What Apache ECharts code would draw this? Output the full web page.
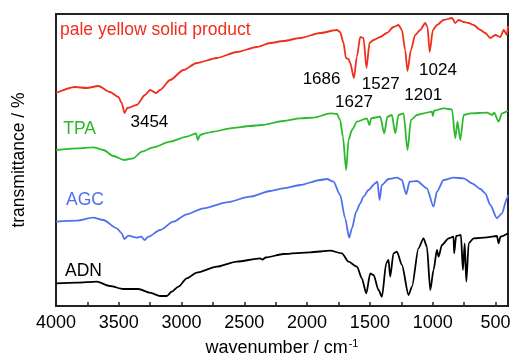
<!DOCTYPE html>
<html>
<head>
<meta charset="utf-8">
<script src="https://cdn.jsdelivr.net/npm/echarts@6/dist/echarts.min.js"></script>
<style>
  html, body { margin: 0; padding: 0; background: #fff; }
  #chart { width: 512px; height: 358px; }
</style>
</head>
<body>
<div id="chart"></div>
<script>
// FTIR spectra, offset vertically (arbitrary transmittance units)
const productWn = [4000, 3849, 3755, 3663, 3570, 3503, 3477, 3454, 3432, 3357, 3291, 3251, 3203, 3171, 3091, 2985, 2879, 2719, 2560, 2400, 2294, 2188, 2055, 1896, 1763, 1737, 1710, 1691, 1670, 1657, 1627, 1604, 1577, 1551, 1527, 1503, 1471, 1418, 1365, 1312, 1272, 1245, 1219, 1201, 1173, 1139, 1099, 1059, 1041, 1024, 998, 966, 913, 846, 820, 793, 753, 713, 674, 620, 581, 541, 501, 461, 434, 408, 400];
const productT = [213, 219, 218, 220, 214, 209, 203, 193, 198, 201, 211, 216, 213, 216, 226, 236, 243, 248, 254, 259, 263, 265, 268, 273, 276, 274, 263, 248, 247, 243, 228, 249, 269, 268, 238, 263, 266, 269, 273, 279, 281, 276, 256, 235, 256, 271, 276, 283, 279, 254, 276, 281, 286, 288, 283, 286, 284, 283, 281, 276, 273, 268, 271, 269, 276, 271, 280];

const tpaWn = [4000, 3835, 3703, 3623, 3543, 3458, 3384, 3317, 3225, 3091, 2959, 2884, 2871, 2852, 2812, 2746, 2613, 2454, 2361, 2188, 2055, 1949, 1816, 1763, 1737, 1715, 1689, 1670, 1643, 1603, 1524, 1503, 1490, 1418, 1386, 1360, 1325, 1298, 1272, 1232, 1200, 1173, 1125, 1072, 1006, 998, 990, 913, 846, 820, 802, 780, 753, 700, 567, 528, 510, 475, 448, 400];
const tpaT = [156, 157.7, 158.7, 156, 150, 146, 147.7, 154.3, 158.7, 164.3, 169.3, 172.7, 166, 171, 172.7, 174.3, 177.7, 180, 181, 185, 187.7, 188.3, 192.7, 192, 186, 169.3, 136, 166, 176, 184.3, 187.7, 181, 187.7, 189.3, 172.7, 189.3, 191, 172.7, 191, 192.7, 156, 186, 191, 192.7, 194.3, 190, 195.3, 197.7, 196.7, 167.7, 184.3, 166, 191, 192.7, 193.3, 191, 193.3, 184.3, 192.7, 195.3];

const agcWn = [4000, 3835, 3703, 3623, 3516, 3477, 3456, 3424, 3357, 3320, 3296, 3264, 3171, 3065, 2959, 2826, 2640, 2454, 2294, 2188, 2055, 1896, 1843, 1790, 1737, 1697, 1665, 1643, 1609, 1577, 1551, 1511, 1458, 1440, 1423, 1405, 1352, 1285, 1245, 1211, 1184, 1125, 1046, 993, 966, 913, 834, 753, 687, 620, 581, 541, 488, 448, 408, 400];
const agcT = [84.3, 85.3, 88.3, 86, 77.7, 72.7, 67, 70.3, 68.3, 69.3, 66, 69.3, 76, 84.3, 91.7, 97.7, 103.7, 109.3, 115, 117.7, 121, 126, 127, 124.3, 111, 87.7, 68.3, 77.7, 94.3, 102.7, 109.3, 116, 122.7, 124.3, 106, 121, 127, 128.3, 126, 111.7, 124.3, 125, 117.7, 99.3, 114.3, 126, 128.3, 127.7, 122.7, 117, 112.7, 101, 87.7, 92.7, 107.7, 111];

const adnWn = [4000, 3835, 3676, 3570, 3464, 3344, 3251, 3171, 3118, 3078, 3025, 2959, 2879, 2719, 2560, 2374, 2355, 2330, 2188, 1976, 1816, 1723, 1670, 1603, 1564, 1529, 1497, 1471, 1431, 1404, 1370, 1352, 1338, 1312, 1285, 1245, 1192, 1165, 1113, 1073, 1046, 1019, 993, 966, 953, 926, 873, 834, 829, 813, 775, 759, 745, 732, 713, 674, 567, 488, 475, 460, 400];
const adnT = [22.7, 23.3, 24.3, 20, 17, 17, 13.3, 10, 10, 14.3, 19.3, 27.7, 33.3, 39.3, 44.3, 47.7, 46.5, 48.5, 52, 53.7, 55.3, 52.7, 44.3, 39.3, 27.7, 12.7, 32.7, 31, 16, 9.3, 42.7, 46, 29.3, 52.7, 54.3, 41, 11, 19.3, 57.7, 67.7, 59.3, 16, 36, 56, 49.3, 61, 67.7, 69.3, 52.7, 70, 71, 36, 62.7, 24.3, 62.7, 67.7, 68.7, 70, 62.7, 69.3, 72.7];

// band assignments written on the product spectrum
const peakText = ['3454', '1686', '1627', '1527', '1201', '1024'];
const peakTextWn = [3256, 1885, 1627, 1414, 1075, 958];
const peakTextT = [183.5, 226.7, 203.5, 221.8, 210.2, 235.2];

// sample names, placed at the left end of each trace
const sampleNames = ['pale yellow solid product', 'TPA', 'AGC', 'ADN'];
const sampleNameWn = [3968, 3942, 3920, 3928];
const sampleNameT = [276, 176.8, 105.5, 34.7];

const xLabelValues = [500, 1000, 1500, 2000, 2500, 3000, 3500, 4000];
const xTickValues = [500, 750, 1000, 1250, 1500, 1750, 2000, 2250, 2500, 2750, 3000, 3250, 3500, 3750, 4000];

const colors = ['#ee2f1c', '#2cba2c', '#4f72ec', '#000000'];
const font = "'Liberation Sans', Arial, sans-serif";

const zip = (xs, ys) => xs.map((x, i) => [x, ys[i]]);
const traces = [zip(productWn, productT), zip(tpaWn, tpaT), zip(agcWn, agcT), zip(adnWn, adnT)];

const lineSeries = traces.map((d, i) => ({
  type: 'line',
  data: d,
  showSymbol: false,
  smooth: 0.25,
  smoothMonotone: 'x',
  lineStyle: { color: colors[i], width: 1.8 },
  silent: true
}));

// scatter defaults to 0.8 opacity, which would fade the text
const peakSeries = {
  type: 'scatter',
  symbolSize: 0,
  silent: true,
  itemStyle: { opacity: 1 },
  data: peakText.map((t, i) => ({ name: t, value: [peakTextWn[i], peakTextT[i]] })),
  label: {
    show: true,
    position: 'inside',
    formatter: p => p.name,
    color: '#000',
    opacity: 1,
    fontFamily: font,
    fontSize: 17
  }
};

const nameSeries = {
  type: 'scatter',
  symbolSize: 0,
  silent: true,
  itemStyle: { opacity: 1 },
  data: sampleNames.map((t, i) => ({
    name: t,
    value: [sampleNameWn[i], sampleNameT[i]],
    label: { color: colors[i] }
  })),
  label: {
    show: true,
    position: 'right',
    distance: 0,
    opacity: 1,
    formatter: p => p.name,
    fontFamily: font,
    fontSize: 17.5
  }
};

const chart = echarts.init(document.getElementById('chart'));
chart.setOption({
  animation: false,
  grid: {
    left: 56, right: 4, top: 14, bottom: 52,
    outerBoundsMode: 'none',
    containLabel: false,
    show: true, borderColor: '#222', borderWidth: 2
  },
  xAxis: {
    type: 'value',
    inverse: true,
    min: 400,
    max: 4000,
    name: '{a|wavenumber / cm}{s|-1}',
    nameLocation: 'middle',
    nameGap: 32,
    nameTextStyle: {
      rich: {
        a: { fontFamily: font, fontSize: 18, color: '#000' },
        s: { fontFamily: font, fontSize: 11, color: '#000', verticalAlign: 'top', padding: [0, 0, 9, 1] }
      }
    },
    axisLine: { lineStyle: { color: '#222', width: 2 } },
    axisTick: { inside: true, length: 4, customValues: xTickValues, lineStyle: { color: '#222', width: 1.5 } },
    axisLabel: {
      customValues: xLabelValues,
      formatter: v => String(v),
      margin: 8, color: '#000', fontFamily: font, fontSize: 18
    },
    splitLine: { show: false }
  },
  yAxis: {
    type: 'value',
    min: 0,
    max: 292,
    name: 'transmittance / %',
    nameLocation: 'middle',
    nameGap: 28,
    nameTextStyle: { fontFamily: font, fontSize: 17.5, color: '#000' },
    axisLine: { show: true, lineStyle: { color: '#222', width: 2 } },
    axisTick: { show: false },
    axisLabel: { show: false },
    splitLine: { show: false }
  },
  series: [...lineSeries, peakSeries, nameSeries]
});
</script>
</body>
</html>
